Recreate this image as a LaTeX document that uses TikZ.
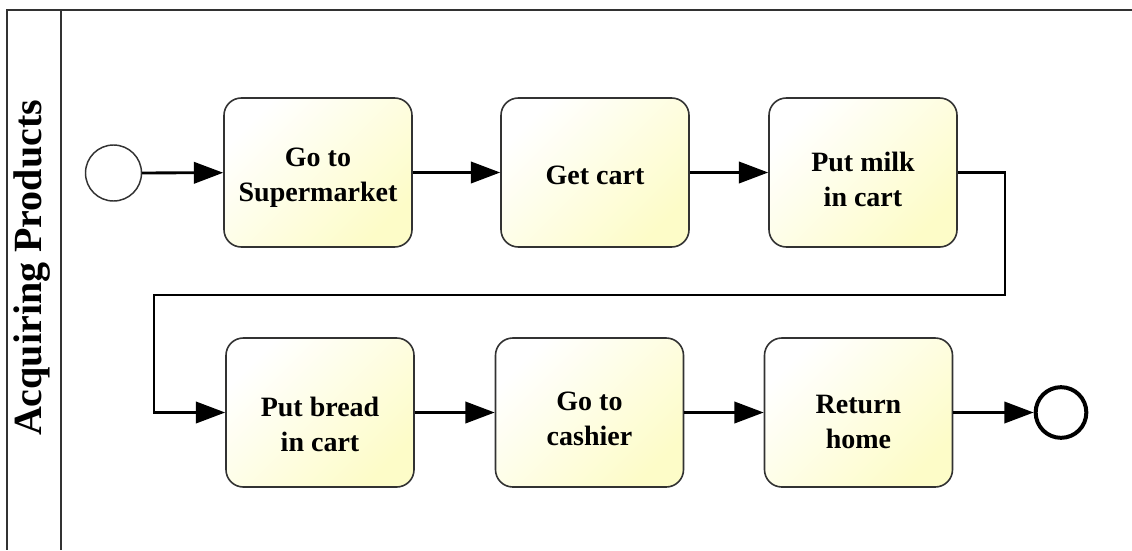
\documentclass[tikz,border=0pt]{standalone}
\usepackage{fontspec}
\setmainfont{Liberation Serif}
\usetikzlibrary{arrows.meta}
\definecolor{boxyellow}{RGB}{253,252,200}
\definecolor{linegray}{RGB}{50,50,50}
\tikzset{
  task/.style={draw=linegray, line width=1.2pt, rounded corners=13pt,
    top color=white, bottom color=boxyellow, shading angle=45,
    minimum width=141pt, minimum height=111.75pt, inner sep=0pt},
  tasktext/.style={align=center, inner sep=0pt,
    font=\bfseries\fontsize{21}{26}\selectfont},
  startev/.style={circle, draw=linegray, line width=1.1pt, fill=white, minimum size=42pt, inner sep=0pt},
  endev/.style={circle, draw=black, line width=3pt, fill=white, minimum size=38pt, inner sep=0pt},
  flow/.style={draw=black, line width=2.1pt, -{Triangle[length=22pt,width=16pt]}},
  poolline/.style={draw=linegray, line width=1.1pt}
}
\begin{document}
\begin{tikzpicture}[x=0.75pt,y=-0.75pt]
\useasboundingbox (0,0) rectangle (1132,550);
% pool
\coordinate (ptl) at (7,10);
\coordinate (ptr) at (1132,10);
\coordinate (pbl) at (7,550);
\coordinate (dt) at (61,10);
\coordinate (db) at (61,550);
\draw[poolline] (ptr) -- (ptl) -- (pbl);
\draw[poolline] (dt) -- (db);
\node[rotate=90, font=\bfseries\fontsize{30}{36}\selectfont] (lane) at (32,268) {Acquiring Products};
% events and tasks
\node[startev] (start) at (113.5,173) {};
\node[task, label={[tasktext, yshift=-4pt]center:Go to\\Supermarket}] (t1) at (318,172.5) {};
\node[task, label={[tasktext, yshift=-2pt]center:Get cart}] (t2) at (595,172.5) {};
\node[task, label={[tasktext, yshift=-5pt]center:Put milk\\in cart}] (t3) at (863,172.5) {};
\node[task, label={[tasktext, yshift=-9pt]center:Put bread\\in cart}] (t4) at (320,412.5) {};
\node[task, label={[tasktext, yshift=-5pt]center:Go to\\cashier}] (t5) at (589.5,412.5) {};
\node[task, label={[tasktext, yshift=-7pt]center:Return\\home}] (t6) at (858.5,412.5) {};
\node[endev] (end) at (1061,412.5) {};
% flows
\coordinate (r1) at (1005,295);
\coordinate (l1) at (154,295);
\draw[flow] (start) -- (t1);
\draw[flow] (t1) -- (t2);
\draw[flow] (t2) -- (t3);
\draw[flow] (t3.east) -| (r1) -- (l1) |- (t4.west);
\draw[flow] (t4) -- (t5);
\draw[flow] (t5) -- (t6);
\draw[flow] (t6) -- (end);
\end{tikzpicture}
\end{document}
